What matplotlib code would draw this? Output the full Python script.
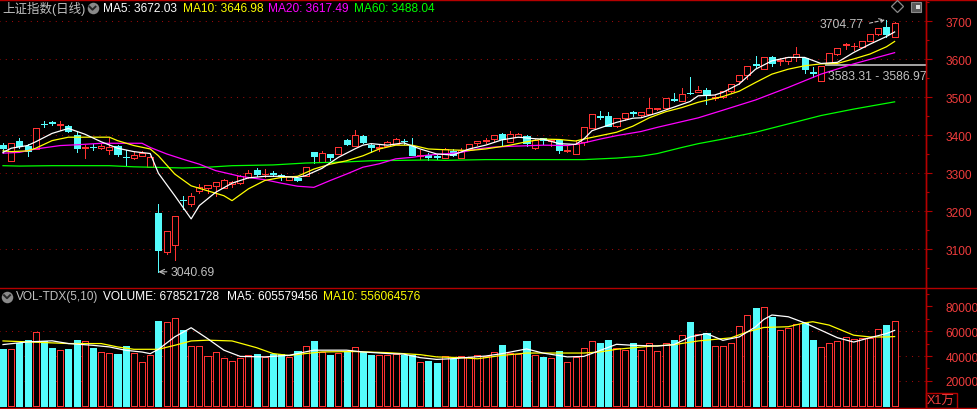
import numpy as np
import matplotlib
matplotlib.use('Agg')
import matplotlib.pyplot as plt
from matplotlib.patches import Rectangle
from matplotlib.lines import Line2D

plt.rcParams['font.family'] = ['Liberation Sans', 'Noto Sans CJK SC', 'DejaVu Sans']

# ---- daily candles (oldest -> newest) ----
opens = [3375, 3333, 3385, 3371, 3364, 3431, 3434, 3427, 3424, 3401,
         3366, 3369, 3366, 3362, 3373, 3343, 3339, 3345, 3317, 3196,
         3094, 3110, 3231, 3220, 3253, 3260, 3267, 3262, 3273, 3274,
         3289, 3309, 3297, 3300, 3295, 3282, 3287, 3294, 3357, 3331,
         3350, 3352, 3388, 3373, 3397, 3374, 3366, 3371, 3378, 3386,
         3373, 3345, 3348, 3345, 3339, 3359, 3339, 3364, 3380, 3386,
         3389, 3403, 3383, 3395, 3397, 3367, 3394, 3386, 3387, 3358,
         3350, 3382, 3418, 3451, 3450, 3424, 3445, 3460, 3453, 3457,
         3468, 3473, 3496, 3490, 3512, 3513, 3518, 3499, 3500, 3516,
         3542, 3560, 3587, 3575, 3605, 3595, 3596, 3607, 3603, 3566,
         3544, 3589, 3614, 3637, 3634, 3633, 3649, 3667, 3684, 3658]
highs = [3381, 3381, 3392, 3376, 3418, 3437, 3437, 3437, 3427, 3411,
         3374, 3378, 3376, 3394, 3374, 3360, 3355, 3359, 3346, 3219,
         3147, 3187, 3241, 3247, 3272, 3269, 3277, 3285, 3281, 3296,
         3308, 3315, 3311, 3306, 3299, 3292, 3288, 3317, 3357, 3359,
         3350, 3369, 3390, 3413, 3402, 3377, 3376, 3385, 3393, 3391,
         3392, 3362, 3353, 3350, 3367, 3364, 3367, 3376, 3385, 3392,
         3401, 3406, 3411, 3406, 3402, 3389, 3394, 3389, 3387, 3371,
         3385, 3422, 3455, 3464, 3462, 3445, 3459, 3464, 3461, 3497,
         3471, 3499, 3511, 3524, 3553, 3529, 3524, 3507, 3517, 3535,
         3558, 3582, 3610, 3605, 3608, 3603, 3607, 3633, 3603, 3581,
         3583.31, 3616, 3631, 3642, 3642, 3648, 3666, 3683.5, 3704.77, 3697]
lows = [3353, 3332, 3366, 3345, 3364, 3423, 3427, 3415, 3408, 3357,
        3341, 3362, 3364, 3352, 3346, 3320, 3338, 3345, 3317, 3040.69,
        3088, 3073, 3206, 3215, 3247, 3248, 3240, 3260, 3265, 3271,
        3287, 3294, 3289, 3292, 3282, 3282, 3281, 3292, 3327, 3331,
        3336, 3350, 3374, 3373, 3381, 3356, 3358, 3371, 3377, 3377,
        3348, 3338, 3336, 3338, 3339, 3345, 3339, 3361, 3375, 3381,
        3385, 3373, 3383, 3395, 3373, 3365, 3378, 3371, 3353, 3357,
        3350, 3374, 3418, 3443, 3424, 3422, 3441, 3452, 3448, 3455,
        3466, 3473, 3490, 3490, 3508, 3513, 3483, 3494, 3499, 3514,
        3535, 3547, 3579, 3575, 3582, 3586, 3588, 3596, 3563, 3553,
        3544, 3586.97, 3612, 3628, 3624, 3633, 3648, 3665, 3658, 3658]
closes = [3367, 3380, 3373, 3358, 3418, 3429, 3432, 3429, 3410, 3367,
          3369, 3368, 3371, 3369, 3351, 3342, 3348, 3353, 3344, 3099,
          3147, 3187, 3229, 3239, 3265, 3268, 3276, 3283, 3277, 3292,
          3301, 3299, 3299, 3299, 3294, 3292, 3282, 3317, 3345, 3353,
          3343, 3369, 3376, 3402, 3383, 3370, 3368, 3383, 3389, 3385,
          3348, 3347, 3343, 3344, 3364, 3348, 3360, 3376, 3385, 3388,
          3401, 3389, 3403, 3403, 3380, 3387, 3387, 3388, 3362, 3360,
          3376, 3422, 3455, 3449, 3424, 3445, 3459, 3458, 3461, 3471,
          3471, 3497, 3494, 3508, 3511, 3518, 3506, 3502, 3516, 3535,
          3558, 3582, 3585, 3605, 3591, 3597, 3607, 3614, 3574, 3564,
          3583, 3616, 3631, 3639, 3636, 3647.55, 3665.92, 3683.46, 3666.44, 3696.77]
# volume in units of 10k (X1万)
volumes = [45900, 45400, 50800, 53000, 59400, 51900, 46500, 44900, 45900, 53000,
           51900, 46500, 43200, 42100, 41600, 48100, 42700, 35100, 41100, 68000,
           67500, 70200, 60500, 48100, 48100, 40000, 43200, 38400, 36200, 38400,
           40500, 41600, 38900, 41600, 41600, 39500, 44300, 48100, 52400, 43200,
           41000, 42700, 43800, 47500, 43200, 40500, 41000, 41000, 41600, 40500,
           40500, 35100, 35700, 34600, 40000, 37300, 40000, 38900, 40500, 40000,
           43200, 49100, 42700, 41600, 52400, 41000, 39400, 38300, 44300, 35600,
           38900, 46500, 52400, 50800, 52900, 46500, 44900, 50800, 44900, 50800,
           44300, 50800, 52900, 57200, 67500, 57800, 58300, 48100, 48100, 50600,
           64100, 73300, 78700, 79200, 71700, 60900, 62600, 65300, 66900, 52900,
           47000, 50800, 52400, 55100, 54000, 54500, 54500, 61500, 64500, 67852]

# moving-average lines, read at sample bars
ma5_x = [0, 1, 3, 4, 6, 8, 10, 12, 14, 16, 18, 19, 21, 23, 24, 26, 28, 30, 32, 34,
         36, 37, 39, 41, 43, 44, 45, 47, 49, 51, 53, 55, 57, 59, 61, 63, 65, 66, 68, 70,
         71, 72, 75, 77, 78, 80, 82, 84, 85, 87, 88, 90, 92, 94, 96, 98, 100, 102, 104, 106,
         108, 109]
ma5_y = [3355, 3366, 3373, 3383, 3405, 3418, 3403, 3383, 3366, 3357, 3352, 3300, 3241, 3180, 3215, 3250, 3274, 3288, 3292, 3292,
         3289, 3294, 3313, 3342, 3364, 3374, 3378, 3374, 3380, 3364, 3351, 3348, 3364, 3374, 3388, 3395, 3391, 3390, 3378, 3376,
         3390, 3412, 3434, 3445, 3446, 3459, 3474, 3489, 3504, 3506, 3513, 3535, 3574, 3596, 3605, 3605, 3589, 3592, 3618, 3640,
         3660, 3672.03]
ma10_x = [0, 1, 3, 4, 6, 8, 13, 14, 16, 18, 19, 21, 23, 25, 27, 28, 30, 32, 34, 36,
          38, 40, 42, 44, 46, 48, 50, 52, 54, 57, 59, 62, 64, 66, 68, 70, 71, 73, 75, 77,
          79, 81, 83, 85, 88, 90, 92, 94, 96, 98, 100, 102, 104, 106, 108, 109]
ma10_y = [3359, 3357, 3359, 3366, 3386, 3395, 3395, 3386, 3373, 3364, 3346, 3298, 3267, 3254, 3241, 3228, 3259, 3281, 3289, 3292,
          3311, 3324, 3333, 3346, 3364, 3374, 3374, 3364, 3362, 3360, 3364, 3374, 3383, 3390, 3389, 3385, 3390, 3399, 3408, 3424,
          3446, 3462, 3473, 3487, 3502, 3516, 3539, 3561, 3574, 3583, 3588, 3589, 3601, 3614, 3633, 3646.98]
ma20_x = [0, 2, 4, 7, 9, 12, 17, 18, 20, 22, 24, 26, 29, 32, 34, 36, 38, 40, 42, 44,
          46, 48, 50, 52, 54, 56, 58, 60, 62, 66, 69, 71, 73, 75, 78, 80, 83, 85, 88, 92,
          96, 100, 104, 109]
ma20_y = [3353, 3355, 3364, 3373, 3375, 3379, 3379, 3368, 3351, 3337, 3324, 3307, 3292, 3283, 3274, 3266, 3263, 3281, 3298, 3316,
          3325, 3338, 3342, 3348, 3351, 3355, 3364, 3369, 3371, 3374, 3373, 3380, 3390, 3399, 3410, 3421, 3436, 3446, 3466, 3493,
          3526, 3561, 3588, 3617.49]
ma60_x = [0, 2, 6, 13, 16, 22, 25, 28, 33, 37, 42, 45, 52, 54, 59, 65, 71, 73, 75, 78,
          80, 83, 85, 88, 92, 96, 100, 104, 109]
ma60_y = [3320, 3319, 3320, 3320, 3317, 3314, 3316, 3320, 3322, 3327, 3330, 3333, 3335, 3334, 3336, 3336, 3336, 3338, 3340, 3345,
          3352, 3368, 3378, 3390, 3408, 3430, 3452, 3469, 3488.04]
vma5_x = [0, 3, 6, 8, 11, 13, 15, 17, 18, 19, 21, 23, 25, 27, 29, 32, 35, 36, 38, 42,
          44, 47, 49, 51, 53, 55, 59, 61, 64, 66, 69, 71, 73, 75, 77, 80, 82, 84, 86, 88,
          90, 92, 93, 94, 96, 98, 100, 102, 104, 106, 108, 109]
vma5_y = [49200, 51300, 52200, 50000, 48600, 47300, 44600, 43200, 41900, 45400, 55400, 62700, 54000, 44700, 39700, 39300, 40600, 42000, 44700, 44700,
          43300, 42000, 41500, 38700, 37300, 37900, 40000, 41900, 45700, 42400, 39300, 39700, 44500, 49400, 48600, 48000, 49100, 55300, 58000, 52600,
          55300, 63400, 69300, 72900, 71500, 66600, 60700, 54700, 51200, 54700, 58000, 60557.9]
vma10_x = [0, 4, 8, 12, 14, 16, 19, 21, 23, 25, 28, 31, 33, 35, 37, 39, 43, 47, 51, 53,
           56, 58, 61, 64, 67, 71, 73, 75, 79, 82, 85, 89, 91, 93, 96, 98, 99, 101, 104, 106,
           108, 109]
vma10_y = [52100, 51100, 50000, 50000, 47300, 45400, 45400, 48600, 52100, 52700, 52100, 46700, 42000, 40400, 42000, 43300, 43600, 42700, 41100, 39300,
           38700, 37800, 40500, 42400, 42400, 42400, 43300, 45400, 47800, 49100, 52100, 54600, 59400, 62900, 63500, 66600, 67500, 64800, 56700, 55300,
           55300, 55606.5]

price_ticks = [3100, 3200, 3300, 3400, 3500, 3600, 3700]
vol_ticks = [20000, 40000, 60000, 80000]
gap_lo, gap_hi = 3583.31, 3586.97

RED = '#ff3232'
CYAN = '#54fcfc'
AXIS_RED = '#b40000'
LABEL_RED = '#f03c3c'
GRID = '#9a0a0a'
GRAY = '#c0c0c0'

W, H = 977, 410
AX_R = 925.5
STEP = 8.18
LW = 0.72  # one pixel

o, h, l, c = map(np.array, (opens, highs, lows, closes))
v = np.array(volumes)
n = len(c)
x = np.arange(n)
up = c >= o
dn = ~up


def fxy(xp, yp):
    return xp / W, 1 - yp / H


fig = plt.figure(figsize=(W / 100, H / 100), dpi=100, facecolor='black')
ax = fig.add_axes([0, 1 - 288 / H, AX_R / W, 287 / H])
axv = fig.add_axes([0, 1 - 408 / H, AX_R / W, 119 / H])

for a in (ax, axv):
    a.set_facecolor('black')
    for s in ('left', 'top', 'bottom'):
        a.spines[s].set_visible(False)
    a.spines['right'].set_color(AXIS_RED)
    a.spines['right'].set_linewidth(1.0)
    a.set_xticks([])
    a.yaxis.tick_right()
    a.tick_params(axis='y', which='major', direction='out', length=4, width=0.8,
                  color=AXIS_RED, labelcolor=LABEL_RED, labelsize=8.6, pad=10.4)
    a.tick_params(axis='y', which='minor', direction='out', length=2, width=0.8, color=AXIS_RED)
    a.set_xlim(-3 / STEP, (AX_R - 3) / STEP)

# ---- price panel ----
ax.set_ylim(3000.7, 3756.1)
ax.set_yticks(price_ticks)
ax.set_yticks(np.arange(3050, 3751, 50), minor=True)
ax.hlines(price_ticks, -1, n + 5, colors=GRID, linestyles=[(0, (1, 5))], lw=0.75, zorder=0.5)

bw = 0.74
ax.vlines(x[up], l[up], h[up], color=RED, lw=LW, antialiased=False, zorder=2)
ax.vlines(x[dn], l[dn], h[dn], color=CYAN, lw=LW, antialiased=False, zorder=2)
ax.bar(x[up], (c - o)[up], bottom=o[up], width=bw, facecolor='black', edgecolor=RED,
       lw=LW, antialiased=False, zorder=3)
ax.bar(x[dn], (o - c)[dn], bottom=c[dn], width=bw, facecolor=CYAN, edgecolor=CYAN,
       lw=LW, antialiased=False, zorder=3)

ax.plot(ma60_x, ma60_y, color='#00ff00', lw=0.9, zorder=4)
ax.plot(ma20_x, ma20_y, color='#ff00ff', lw=0.9, zorder=4)
ax.plot(ma10_x, ma10_y, color='#ffff00', lw=0.9, zorder=4)
ax.plot(ma5_x, ma5_y, color='white', lw=0.9, zorder=5)

# price gap marker
ax.add_patch(Rectangle((100.5, gap_lo), 20, gap_hi - gap_lo, facecolor='#a0a0a0',
                       edgecolor='none', zorder=3))
ax.text(100.85, 3557, f'{gap_lo:.2f} - {gap_hi:.2f}', color=GRAY, fontsize=8.8,
        ha='left', va='center', clip_on=True, zorder=6)

ax.annotate('3704.77', xy=(108, 3704.77), xytext=((864 - 3) / STEP, 3692),
            ha='right', va='center', color=GRAY, fontsize=8.8,
            arrowprops=dict(arrowstyle='->', color=GRAY, lw=0.8, linestyle=(0, (3, 2)),
                            relpos=(1, 0.5), shrinkA=2, shrinkB=1))
ax.annotate('3040.69', xy=(19, 3040.69), xytext=((171 - 3) / STEP, 3040.69),
            ha='left', va='center', color=GRAY, fontsize=8.8,
            arrowprops=dict(arrowstyle='->', color=GRAY, lw=0.8,
                            relpos=(0, 0.5), shrinkA=1, shrinkB=0))

# ---- volume panel ----
axv.set_ylim(-880, 94560)
axv.set_yticks(vol_ticks)
axv.set_yticklabels([str(t) for t in vol_ticks])
axv.set_yticks(np.arange(10000, 90001, 10000), minor=True)
axv.hlines([20000, 40000, 60000], -1, n + 5, colors=GRID, linestyles=[(0, (1, 5))], lw=0.75, zorder=0.5)
axv.bar(x[up], v[up], width=bw, facecolor='black', edgecolor=RED, lw=LW,
        antialiased=False, zorder=2)
axv.bar(x[dn], v[dn], width=bw, facecolor=CYAN, edgecolor=CYAN, lw=LW,
        antialiased=False, zorder=2)
axv.plot(vma10_x, vma10_y, color='#ffff00', lw=0.9, zorder=4)
axv.plot(vma5_x, vma5_y, color='white', lw=0.9, zorder=5)

# ---- frame lines ----
for yy in (0.5, 288.5, 408.5):
    fig.add_artist(Line2D([0, 1], [1 - yy / H] * 2, transform=fig.transFigure,
                          color=AXIS_RED, lw=1.0))
fig.add_artist(Line2D([AX_R / W] * 2, [0, 1], transform=fig.transFigure, color=AXIS_RED, lw=1.0))
fig.add_artist(Rectangle(fxy(925.5, 408.5), 31 / W, 14.5 / H, transform=fig.transFigure,
                         fill=False, edgecolor=AXIS_RED, lw=1.0))
fig.text(*fxy(941, 401.5), 'X1万', color=LABEL_RED, fontsize=9, ha='center', va='center')


def chevron_icon(cx, cy):
    fig.add_artist(Line2D([cx / W], [1 - cy / H], transform=fig.transFigure, marker='o',
                          markersize=8.3, color='#8a8a8a', markeredgewidth=0))
    fig.add_artist(Line2D([(cx - 3) / W, cx / W, (cx + 3) / W],
                          [1 - (cy - 1.3) / H, 1 - (cy + 1.7) / H, 1 - (cy - 1.3) / H],
                          transform=fig.transFigure, color='#262626', lw=1.4))


# ---- header texts ----
fs = 8.6
fig.text(*fxy(2, 9), '上证指数(日线)', color=GRAY, fontsize=9, ha='left', va='center')
chevron_icon(92.5, 9)
fig.text(*fxy(103.3, 9), f'MA5: {ma5_y[-1]:.2f}', color='white', fontsize=fs, va='center')
fig.text(*fxy(182.7, 9), f'MA10: {ma10_y[-1]:.2f}', color='#ffff00', fontsize=fs, va='center')
fig.text(*fxy(268.3, 9), f'MA20: {ma20_y[-1]:.2f}', color='#ff00ff', fontsize=fs, va='center')
fig.text(*fxy(354, 9), f'MA60: {ma60_y[-1]:.2f}', color='#00ff00', fontsize=fs, va='center')

chevron_icon(7, 297.5)
fig.text(*fxy(16, 297.5), 'VOL-TDX(5,10)', color=GRAY, fontsize=fs, va='center')
fig.text(*fxy(103, 297.5), 'VOLUME: 678521728', color='white', fontsize=fs, va='center')
fig.text(*fxy(226.7, 297.5), 'MA5: 605579456', color='white', fontsize=fs, va='center')
fig.text(*fxy(323.3, 297.5), 'MA10: 556064576', color='#ffff00', fontsize=fs, va='center')

# top-right icons
fig.add_artist(Line2D([897 / W], [1 - 7 / H], transform=fig.transFigure, marker='D',
                      markersize=6, markerfacecolor='none', markeredgecolor='#8a8a8a', markeredgewidth=0.9))
fig.add_artist(Line2D([916 / W], [1 - 8 / H], transform=fig.transFigure, marker='s',
                      markersize=7.5, markerfacecolor='#5a5a5a', markeredgecolor='#8a8a8a', markeredgewidth=0.8))
fig.add_artist(Line2D([917.5 / W], [1 - 8 / H], transform=fig.transFigure, marker='s',
                      markersize=3.2, markerfacecolor='#e0e0e0', markeredgewidth=0))

fig.savefig('out.png', dpi=100, facecolor='black')
